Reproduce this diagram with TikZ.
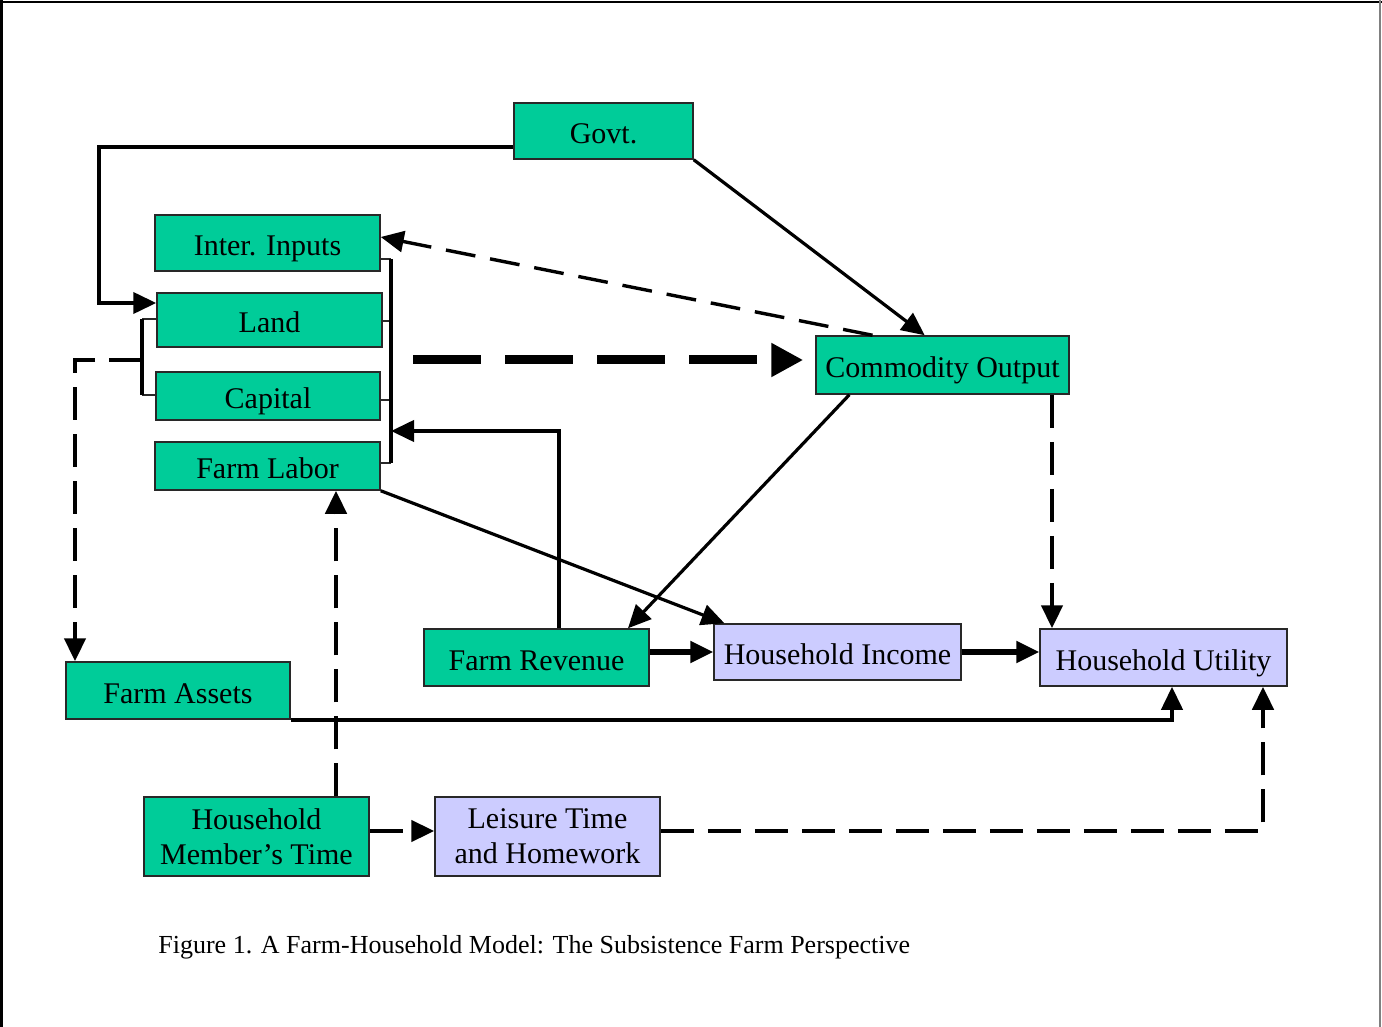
\documentclass[tikz,border=0pt]{standalone}
\usepackage{fontspec}
\setmainfont{Liberation Serif}
\usetikzlibrary{arrows.meta,calc}
\definecolor{grn}{RGB}{0,204,153}
\definecolor{lav}{RGB}{204,204,255}
\definecolor{edge}{RGB}{40,40,40}
\tikzset{
  box/.style={draw=edge, line width=0.75pt, inner sep=0pt, align=center,
              font=\fontsize{15}{17.5}\selectfont},
  one/.style={text height=13pt, text depth=0.5pt},
  gbox/.style={box, fill=grn},
  lbox/.style={box, fill=lav},
  tip/.style={-{Triangle[length=11.5pt,width=10.5pt]}},
  sol/.style={line width=2pt},
  solthin/.style={line width=1.6pt},
  solthick/.style={line width=2.6pt},
  dsh/.style={line width=2.3pt, dash pattern=on 16.5pt off 7pt},
  dshthin/.style={line width=1.7pt, dash pattern=on 15pt off 7.5pt},
  bigdsh/.style={line width=4.5pt, dash pattern=on 34pt off 12pt,
                 -{Triangle[length=16pt,width=16pt]}},
  tick/.style={draw=edge, line width=0.7pt}
}
\begin{document}
\begin{tikzpicture}[x=0.5pt,y=-0.5pt]
\useasboundingbox (0,0) rectangle (1382,1027);
% frame
\draw[line width=1.2pt] (0,2) -- (1382,2);
\draw[line width=1.2pt] (1.5,0) -- (1.5,1027);
\draw[line width=1.2pt, gray] (1380,0) -- (1380,1027);

% nodes
\node[gbox, one, minimum width=89.5pt, minimum height=28pt] (govt) at (603.5,131) {Govt.};
\node[gbox, one, minimum width=112.5pt, minimum height=28pt] (inter) at (267.5,243) {Inter. Inputs};
\node[gbox, one, minimum width=112.5pt, minimum height=27pt] (land) at (269.5,320) {Land};
\node[gbox, one, minimum width=112pt, minimum height=24pt] (capital) at (268,396) {Capital};
\node[gbox, one, minimum width=112.5pt, minimum height=24pt] (labor) at (267.5,466) {Farm Labor};
\node[gbox, one, minimum width=126.5pt, minimum height=29pt] (comm) at (942.5,365) {Commodity Output};
\node[gbox, one, minimum width=112.5pt, minimum height=28.5pt] (rev) at (536.5,657.5) {Farm Revenue};
\node[lbox, one, minimum width=123.5pt, minimum height=28pt] (inc) at (837.5,652) {Household Income};
\node[lbox, one, minimum width=123.5pt, minimum height=28.5pt] (util) at (1163.5,657.5) {Household Utility};
\node[gbox, one, minimum width=112pt, minimum height=28.5pt] (assets) at (178,690.5) {Farm Assets};
\node[gbox, minimum width=112.5pt, minimum height=39.5pt] (hmt) at (256.5,836.5) {Household\\Member’s Time};
\node[lbox, minimum width=112.5pt, minimum height=39.5pt] (leis) at (547.5,836.5) {Leisure Time\\and Homework};
\node[anchor=base west, inner sep=0pt, font=\fontsize{13}{15}\selectfont] (cap) at (158,953)
  {Figure 1. A Farm-Household Model: The Subsistence Farm Perspective};

% bracket coordinates
\coordinate (rbt) at (391,259);
\coordinate (rbb) at (391,463);
\coordinate (lbt) at (142,319);
\coordinate (lbb) at (142,395);

% right bracket of inputs
\draw[tick] (inter.east |- rbt) -- (rbt);
\draw[tick] (land.east |- 0,321) -- (391,321);
\draw[tick] (capital.east |- 0,400) -- (391,400);
\draw[tick] (labor.east |- rbb) -- (rbb);
\draw[line width=2.2pt] (rbt) -- (rbb);

% left bracket
\draw[tick] (lbt) -- (land.west |- lbt);
\draw[tick] (lbb) -- (capital.west |- lbb);
\draw[line width=2pt] (lbt) -- (lbb);

% Govt -> Land
\draw[sol,tip] (govt.west |- 0,147) -| (99,303) -- (land.west |- 0,303);
% Govt -> Commodity
\draw[solthin,tip] (govt.south east) -- ($(comm.north west)!0.43!(comm.north east)$);
% Commodity -> Inter. Inputs (dashed)
\draw[dshthin,tip] ($(comm.north west)!0.225!(comm.north east)$) -- (inter.east |- 0,237);
% inputs -> Commodity (big dashed)
\draw[bigdsh, shorten <=11pt, shorten >=6pt] (391,360) -- (comm.west |- 0,360);
% land/capital -> farm assets (dashed)
\draw[dsh,tip] (142,360) -| (assets.north west -| 75,0);
% Farm Revenue -> inputs
\draw[sol,tip] (rev.north -| 559,0) |- (391,431);
% Farm Labor -> Household Income
\draw[solthin,tip] (labor.south east) -- ($(inc.north west)!0.045!(inc.north east)$);
% Commodity -> Farm Revenue
\draw[solthin,tip] ($(comm.south west)!0.134!(comm.south east)$) -- ($(rev.north west)!0.904!(rev.north east)$);
% Commodity -> Household Utility (dashed)
\draw[dsh,tip] (comm.south -| 1052,0) -- (util.north -| 1052,0);
% Farm Revenue -> Household Income
\draw[solthick,tip] (rev.east |- inc.west) -- (inc.west);
% Household Income -> Household Utility
\draw[solthick,tip] (inc.east) -- (util.west |- inc.east);
% Farm Assets -> Household Utility
\draw[sol,tip] (assets.south east) -| (util.south -| 1172,0);
% HMT -> Farm Labor (dashed)
\draw[dsh,tip] (hmt.north -| 336,0) -- (labor.south -| 336,0);
% HMT -> Leisure (dashed)
\draw[dsh,tip] (hmt.east |- 0,831) -- (leis.west |- 0,831);
% Leisure -> Household Utility (dashed)
\draw[dsh,tip] (leis.east |- 0,831) -| (util.south -| 1263,0);
\end{tikzpicture}
\end{document}
